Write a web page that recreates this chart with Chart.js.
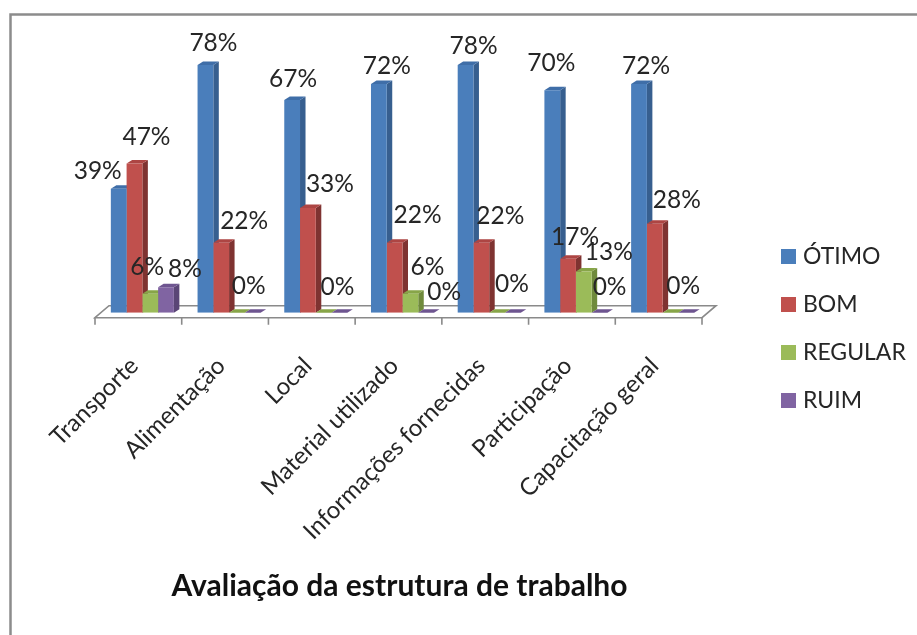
<!DOCTYPE html>
<html><head><meta charset="utf-8">
<style>html,body{margin:0;padding:0;background:#fff}canvas{display:block}</style>
<script src="https://cdn.jsdelivr.net/npm/chart.js@4"></script>
</head><body><canvas id="c" width="917" height="635"></canvas>
<script>
const categories = ["Transporte","Alimentação","Local","Material utilizado","Informações fornecidas","Participação","Capacitação geral"];
const otimo   = [39,78,67,72,78,70,72];
const bom     = [47,22,33,22,22,17,28];
const regular = [6,0,0,6,0,13,0];
const ruim    = [8,0,0,0,0,0,0];
const seriesNames = ["ÓTIMO","BOM","REGULAR","RUIM"];
const seriesValues = [otimo,bom,regular,ruim];
const colors = ["#4a7ebb","#c0504d","#9bbb59","#8064a2"];
const sideColors = ["#375f8f","#7f3331","#6f8a3c","#5a4576"];
const topColors = ["#3f6ea8","#ad4543","#87a548","#6e5590"];
// Label nudges relative to each bar top
const nudgeX = [[-21,8,1,8,8,-1,7],[12,23,22,23,19,7,22],[-3,0,0,17,0,25,0],[19,-4,-2,18,-1,10,-3]];
const nudgeY = [[-18,-22,-21,-18,-19,-27,-18],[-26,-22,-24,-28,-27,-22,-24],[-27,0,0,-27,0,-19,0],[-18,-27,-26,-21,-29,-26,-27]];
const FONT = "Lato, Carlito, sans-serif";
const depthX = 5.5, depthY = 3.5;

function poly(ctx, pts, fill){
  ctx.fillStyle = fill; ctx.beginPath();
  pts.forEach((p,i)=> i?ctx.lineTo(p[0],p[1]):ctx.moveTo(p[0],p[1]));
  ctx.closePath(); ctx.fill();
}
const frame = {
  id:'frame',
  beforeDraw(chart){
    const ctx = chart.ctx; ctx.save();
    ctx.strokeStyle = '#8c8c8c'; ctx.lineWidth = 2.5;
    ctx.beginPath(); ctx.moveTo(10.5,635); ctx.lineTo(10.5,14.5); ctx.lineTo(917,14.5); ctx.stroke();
    ctx.restore();
  }
};
const bars3d = {
  id:'bars3d',
  afterLayout(chart){
    const lg = chart.legend, t = chart.titleBlock;
    const w = lg.right - lg.left, h = lg.bottom - lg.top;
    lg.left = 760.5; lg.right = lg.left + w;
    lg.top = 220; lg.bottom = lg.top + h;
    t.left -= 3; t.right -= 3;
  },
  beforeDatasetsDraw(chart){
    const ctx = chart.ctx, a = chart.chartArea;
    ctx.save();
    const shift = 4, L = a.left - shift, R = a.right - shift, fy = a.bottom + 5, by = a.bottom - 7, fd = 14;
    ctx.strokeStyle = '#8a8a8a'; ctx.lineWidth = 1.6;
    ctx.beginPath();
    ctx.moveTo(L,fy); ctx.lineTo(L+fd,by); ctx.lineTo(R+fd,by); ctx.lineTo(R,fy); ctx.closePath();
    ctx.stroke();
    const step = (R-L)/categories.length;
    ctx.beginPath();
    for(let i=0;i<=categories.length;i++){ const x=L+i*step; ctx.moveTo(x,fy); ctx.lineTo(x,fy+7);}
    ctx.stroke();
    chart.data.datasets.forEach((ds,di)=>{
      chart.getDatasetMeta(di).data.forEach(b=>{
        const l=b.x-b.width/2, r=b.x+b.width/2, t=b.y, bt=b.base;
        poly(ctx,[[r,bt],[r+depthX,bt-depthY],[r+depthX,t-depthY],[r,t]],sideColors[di]);
        poly(ctx,[[l,t],[l+depthX,t-depthY],[r+depthX,t-depthY],[r,t]],topColors[di]);
      });
    });
    ctx.restore();
  },
  afterDatasetsDraw(chart){
    const ctx = chart.ctx;
    ctx.save();
    ctx.font = "24.5px "+FONT; ctx.fillStyle='#262626'; ctx.textAlign='center'; ctx.textBaseline='middle';
    chart.data.datasets.forEach((ds,di)=>{
      chart.getDatasetMeta(di).data.forEach((b,i)=>{
        const v = ds.data[i];
        if(di===2 && v===0) return;
        ctx.fillText(v+'%', b.x+nudgeX[di][i], b.y+nudgeY[di][i]);
      });
    });
    ctx.restore();
  }
};
new Chart(document.getElementById('c'),{
  type:'bar',
  data:{labels:categories,datasets:seriesNames.map((n,i)=>({label:n,data:seriesValues[i],backgroundColor:colors[i],borderWidth:0,categoryPercentage:0.727,barPercentage:1}))},
  plugins:[frame,bars3d],
  options:{
    responsive:false,animation:false,
    layout:{padding:{left:99,right:211,top:58.6,bottom:0}},
    scales:{
      x:{grid:{display:false},border:{display:false},
         ticks:{autoSkip:false,minRotation:45,maxRotation:45,padding:31,labelOffset:-8,color:'#262626',font:{family:FONT,size:24}},
         afterFit(s){ s.height = 255.3; }},
      y:{display:false,min:0,max:80}
    },
    plugins:{
      tooltip:{enabled:false},
      legend:{position:'chartArea',align:'start',labels:{usePointStyle:true,pointStyle:'rect',boxWidth:6,boxHeight:15,padding:25,color:'#262626',font:{family:FONT,size:23}}},
      title:{display:true,position:'bottom',fullSize:false,text:'Avaliação da estrutura de trabalho',color:'#111111',font:{family:FONT,size:30,weight:'bold'},padding:{top:0,bottom:31}}
    }
  }
});
</script></body></html>
